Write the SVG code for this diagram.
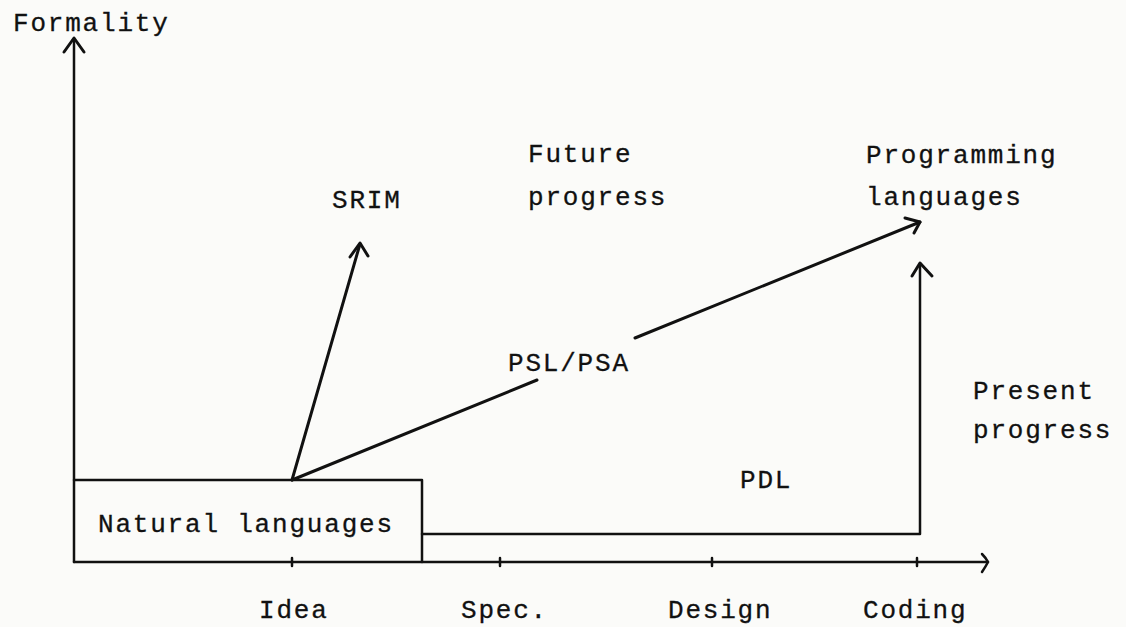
<svg xmlns="http://www.w3.org/2000/svg" width="1126" height="627" viewBox="0 0 1126 627">
  <style>
    .t { font-family: "Liberation Mono", "Courier New", monospace; font-size: 26px; letter-spacing: 1.8px; fill: #111; stroke: #111; stroke-width: 0.3px; }
    .ln { stroke: #111; stroke-width: 2.5; fill: none; stroke-linecap: round; stroke-linejoin: round; }
    .ar { stroke: #111; stroke-width: 3; fill: none; stroke-linecap: round; stroke-linejoin: round; }
  </style>
  <rect width="1126" height="627" fill="#fbfbf9"/>

  <g id="axes">
    <text class="t" x="13" y="31">Formality</text>
    <path class="ln" d="M74 562 V40"/>
    <path class="ar" d="M64 52 L74 38 L84 52"/>
    <path class="ln" d="M74 562 H988"/>
    <path class="ln" d="M982 554 Q986 558 988 562 Q986 566 982 572"/>
    <path class="ln" d="M292 558 V566 M500 558 V566 M712 558 V566 M917 558 V566"/>
    <text class="t" x="259" y="618">Idea</text>
    <text class="t" x="461" y="618">Spec.</text>
    <text class="t" x="668" y="618">Design</text>
    <text class="t" x="863" y="618">Coding</text>
  </g>

  <g id="natural-languages">
    <path class="ln" d="M74 480 H422 V562"/>
    <text class="t" x="98" y="532">Natural languages</text>
  </g>

  <g id="srim">
    <text class="t" x="332" y="208">SRIM</text>
  </g>

  <g id="future-progress">
    <text class="t" x="528" y="162">Future</text>
    <text class="t" x="528" y="205">progress</text>
  </g>

  <g id="programming-languages">
    <text class="t" x="866" y="163">Programming</text>
    <text class="t" x="866" y="205">languages</text>
  </g>

  <g id="psl-psa">
    <text class="t" x="508" y="371">PSL/PSA</text>
  </g>

  <g id="present-progress">
    <text class="t" x="973" y="399">Present</text>
    <text class="t" x="973" y="438">progress</text>
  </g>

  <g id="pdl">
    <text class="t" x="740" y="488">PDL</text>
  </g>

  <g id="connectors">
    <path class="ar" d="M292 480 L360 244"/>
    <path class="ar" d="M350 257 L360 243 L368 256"/>
    <path class="ar" d="M292 480 L537 380"/>
    <path class="ar" d="M635 338 L920 222"/>
    <path class="ar" d="M905 218 L920 222 L914 233"/>
    <path class="ln" d="M422 534 H920 V264"/>
    <path class="ar" d="M912 276 L920 263 L932 276"/>
  </g>
</svg>
